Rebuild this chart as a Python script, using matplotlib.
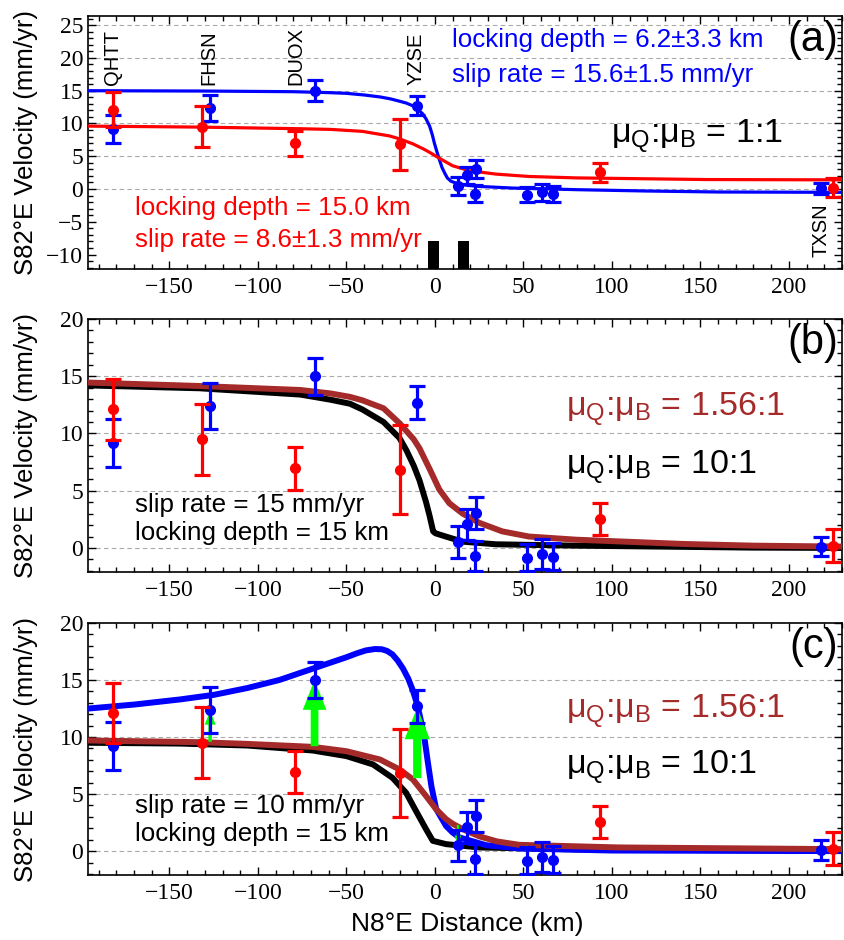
import numpy as np
import matplotlib
matplotlib.use("Agg")
import matplotlib.pyplot as plt

plt.rcParams['font.family'] = ['Liberation Sans', 'DejaVu Sans']
plt.rcParams['mathtext.fontset'] = 'custom'
plt.rcParams['mathtext.rm'] = 'Liberation Sans'
plt.rcParams['mathtext.it'] = 'Liberation Sans:italic'

# GPS stations (blue): distance (km), velocity, 1-sigma
blue_x = [-182, -127, -68, -10, 13, 18, 23.2, 22.5, 52, 60.5, 67, 218]
blue_v = [9.2, 12.4, 15.0, 12.7, 0.5, 2.07, 3.05, -0.7, -0.85, -0.5, -0.75, 0.12]
blue_e = [2.1, 2.0, 1.6, 1.45, 1.38, 1.35, 1.4, 1.3, 1.2, 1.3, 1.2, 0.86]

# red stations
red_x = [-182, -131.7, -78.8, -20, 93.2, 224.7]
red_v = [12.1, 9.5, 6.95, 6.85, 2.55, 0.2]
red_e = [2.65, 3.1, 1.85, 3.9, 1.4, 1.45]

# station names (panel a)
stn_names = ['QHTT', 'FHSN', 'DUOX', 'YZSE', 'TXSN']
stn_x = [-182, -128, -78.6, -10.4, 218]
stn_y = [15.9, 15.9, 15.9, 15.9, -10.4]

# fault traces
fault_x = [-0.6, 16.3]
fault_top = -8.0

# model curves
a_blue_x = [-196, -130, -80, -59, -50, -40, -31, -25, -20, -16, -12.5, -10, -7, -5, -3, -1.5, -0.3, 1,
            2.5, 4, 5.4, 7, 9, 12, 15.7, 25, 44, 81, 120, 160, 230]
a_blue_y = [15.0, 14.95, 14.85, 14.7, 14.6, 14.35, 14.05, 13.75, 13.4, 13.1, 12.7, 12.2, 11.5, 10.7,
            9.6, 8.3, 7.0, 5.8, 4.5, 3.3, 2.5, 1.7, 1.2, 0.9, 0.65, 0.4, 0.15, -0.1, -0.3, -0.45, -0.5]
a_red_x = [-196, -133, -76, -59, -41, -25.6, -20, -12.5, -6, -3, 2.5, 10, 19.4, 34.5, 53, 80, 153, 230]
a_red_y = [9.6, 9.45, 9.2, 9.1, 8.8, 8.1, 7.65, 6.9, 6.05, 5.6, 4.7, 3.55, 2.8, 2.28, 1.92, 1.7, 1.45, 1.4]

b_brown_x = [-196, -133, -76, -59, -48, -41, -29, -20, -16, -12, -8.7, -3, 2.5, 8.2, 15.7, 25, 38, 53,
             80, 140, 180, 230]
b_brown_y = [14.45, 14.15, 13.8, 13.5, 13.2, 12.9, 12.2, 10.9, 10.2, 9.5, 8.7, 6.9, 5.1, 3.9, 3.0, 2.2,
             1.45, 1.0, 0.72, 0.35, 0.2, 0.12]
b_black_x = [-196, -133, -76, -59, -48, -41, -29, -20, -16, -12, -8.7, -5, -3, -1, 0.3, 6.3, 15.7,
             34.5, 80, 179, 230]
b_black_y = [14.2, 13.95, 13.4, 12.95, 12.6, 12.1, 11.0, 9.6, 8.5, 7.2, 5.9, 4.0, 2.8, 1.45, 1.28, 0.99,
             0.55, 0.32, 0.2, 0.03, 0.0]

c_blue_x = [-196, -170, -144, -125, -106, -88, -69, -50, -44, -39, -34, -30, -27, -24, -21, -18, -15,
            -12.5, -10.5, -8.7, -6, -4, -2, 0.7, 6.3, 10, 13.8, 28.8, 47.6, 100, 230]
c_blue_y = [12.5, 12.85, 13.3, 13.7, 14.3, 15.0, 16.0, 17.0, 17.35, 17.6, 17.72, 17.7, 17.55, 17.25,
            16.7, 16.0, 15.1, 14.1, 13.1, 12.0, 10.0, 7.8, 5.7, 3.7, 2.2, 1.63, 1.2, 0.52, 0.23, 0.05, 0.0]
c_brown_x = [-196, -133, -106, -69, -50, -31, -20, -12.5, -5, 0.7, 6.3, 10, 15.7, 25, 35, 47.6, 104, 230]
c_brown_y = [9.7, 9.55, 9.4, 9.14, 8.76, 8.03, 7.16, 6.29, 4.83, 3.67, 2.8, 2.4, 1.92, 1.3, 0.85, 0.55,
             0.32, 0.17]
c_black_x = [-196, -144, -106, -69, -50, -35, -24, -16.3, -10.7, -5, -1.2, 6.3, 25, 80, 230]
c_black_y = [9.5, 9.43, 9.26, 8.82, 8.33, 7.6, 6.43, 5.12, 3.52, 1.92, 0.9, 0.61, 0.32, 0.15, 0.03]

# green arrows in panel (c)
arr_x = [-127, -68, -10, 13, 52]
arr_from = [9.6, 9.2, 6.4, 2.3, 0.5]
arr_to = [12.3, 15.0, 12.6, 0.6, -0.2]

BLUE = '#0000ff'
RED = '#ff0000'
BROWN = '#a52a2a'
GREEN = '#00ff00'
TFONT = 'Liberation Serif'
ANN = 18.7
MU = 24.5

fig = plt.figure(figsize=(8.44, 9.40), dpi=100)
L, W = 0.1043, 0.8933
ax_a = fig.add_axes([L, 0.7138, W, 0.2692])
ax_b = fig.add_axes([L, 0.3915, W, 0.2691])
ax_c = fig.add_axes([L, 0.0691, W, 0.2681])


def style_axis(ax, ylim, yticks, grid_vals):
    ax.set_xlim(-196, 230)
    ax.set_ylim(*ylim)
    ax.set_xticks([-150, -100, -50, 0, 50, 100, 150, 200])
    ax.set_xticks(np.arange(-190, 231, 10), minor=True)
    ax.set_yticks(yticks)
    ax.set_yticks(np.arange(int(np.ceil(ylim[0])), int(ylim[1]) + 1, 1), minor=True)
    ax.tick_params(which='both', direction='in', top=True, right=True, width=1.0)
    ax.tick_params(which='major', length=6)
    ax.tick_params(which='minor', length=3.5)
    ax.tick_params(axis='x', pad=6)
    ax.tick_params(axis='y', pad=3.5)
    for lab in ax.get_xticklabels() + ax.get_yticklabels():
        lab.set_fontfamily(TFONT)
        lab.set_fontsize(17)
    for g in grid_vals:
        ax.axhline(g, color='#aaaaaa', lw=0.8, ls=(0, (4, 3)), zorder=0)
    for s in ax.spines.values():
        s.set_linewidth(1.2)
    ax.set_ylabel('S82°E Velocity (mm/yr)', fontsize=18.5)
    ax.yaxis.set_label_coords(-0.066, 0.5)


def draw_points(ax):
    ax.errorbar(blue_x, blue_v, yerr=blue_e, fmt='o', color=BLUE, ms=7, elinewidth=2.3,
                capsize=5.8, capthick=2.3, zorder=5)
    ax.errorbar(red_x, red_v, yerr=red_e, fmt='o', color=RED, ms=7, elinewidth=2.3,
                capsize=5.8, capthick=2.3, zorder=6)


# ---- panel (a)
style_axis(ax_a, (-12.2, 26.4), np.arange(-10, 26, 5), [0, 5, 10, 15, 20, 25])
ax_a.plot(a_blue_x, a_blue_y, color=BLUE, lw=2.3, zorder=3)
ax_a.plot(a_red_x, a_red_y, color=RED, lw=2.3, zorder=4)
draw_points(ax_a)
ax_a.bar(fault_x, [fault_top + 13] * 2, bottom=-13, width=6.2, color='black', zorder=2)
for name, sx, sy in zip(stn_names, stn_x, stn_y):
    ax_a.text(sx, sy, name, rotation=90, ha='center', va='bottom', fontsize=14.5)
ax_a.text(9.9, 22.7, 'locking depth = 6.2±3.3 km', color=BLUE, fontsize=ANN, va='center')
ax_a.text(9.9, 17.4, 'slip rate = 15.6±1.5 mm/yr', color=BLUE, fontsize=ANN, va='center')
ax_a.text(99.4, 8.0, r'μ$_\mathrm{Q}$:μ$_\mathrm{B}$ = 1:1', color='black', fontsize=MU, va='center')
ax_a.text(-169.3, -2.85, 'locking depth = 15.0 km', color=RED, fontsize=ANN, va='center')
ax_a.text(-169.3, -7.7, 'slip rate = 8.6±1.3 mm/yr', color=RED, fontsize=ANN, va='center')
ax_a.text(0.995, 0.905, '(a)', transform=ax_a.transAxes, ha='right', va='center', fontsize=30)

# ---- panel (b)
style_axis(ax_b, (-2.1, 20), np.arange(0, 21, 5), [0, 5, 10, 15])
ax_b.plot(b_black_x, b_black_y, color='black', lw=4.3, zorder=3)
ax_b.plot(b_brown_x, b_brown_y, color=BROWN, lw=4.3, zorder=3)
draw_points(ax_b)
ax_b.text(-169.3, 3.76, 'slip rate = 15 mm/yr', fontsize=ANN, va='center')
ax_b.text(-169.3, 1.31, 'locking depth = 15 km', fontsize=ANN, va='center')
ax_b.text(74.1, 12.05, r'μ$_\mathrm{Q}$:μ$_\mathrm{B}$ = 1.56:1', color=BROWN, fontsize=MU, va='center')
ax_b.text(74.1, 7.0, r'μ$_\mathrm{Q}$:μ$_\mathrm{B}$ = 10:1', color='black', fontsize=MU, va='center')
ax_b.text(0.995, 0.905, '(b)', transform=ax_b.transAxes, ha='right', va='center', fontsize=30)

# ---- panel (c)
style_axis(ax_c, (-2.1, 20), np.arange(0, 21, 5), [0, 5, 10, 15])
ax_c.plot(c_black_x, c_black_y, color='black', lw=4.3, zorder=3)
ax_c.plot(c_blue_x, c_blue_y, color=BLUE, lw=4.3, zorder=3)
ax_c.plot(c_brown_x, c_brown_y, color=BROWN, lw=4.3, zorder=3)
for ax0, y0, y1 in zip(arr_x, arr_from, arr_to):
    d = y1 - y0
    n = abs(d)
    ax_c.arrow(ax0, y0, 0, d, width=0.75 * n, head_width=2.3 * n, head_length=0.45 * n,
               length_includes_head=True, color=GREEN, lw=0, zorder=4)
draw_points(ax_c)
ax_c.text(-169.3, 3.93, 'slip rate = 10 mm/yr', fontsize=ANN, va='center')
ax_c.text(-169.3, 1.48, 'locking depth = 15 km', fontsize=ANN, va='center')
ax_c.text(74.1, 12.2, r'μ$_\mathrm{Q}$:μ$_\mathrm{B}$ = 1.56:1', color=BROWN, fontsize=MU, va='center')
ax_c.text(74.1, 7.3, r'μ$_\mathrm{Q}$:μ$_\mathrm{B}$ = 10:1', color='black', fontsize=MU, va='center')
ax_c.text(0.995, 0.905, '(c)', transform=ax_c.transAxes, ha='right', va='center', fontsize=30)
ax_c.set_xlabel('N8°E Distance (km)', fontsize=19)
ax_c.xaxis.set_label_coords(0.503, -0.145)

fig.savefig('out.png', dpi=100)
